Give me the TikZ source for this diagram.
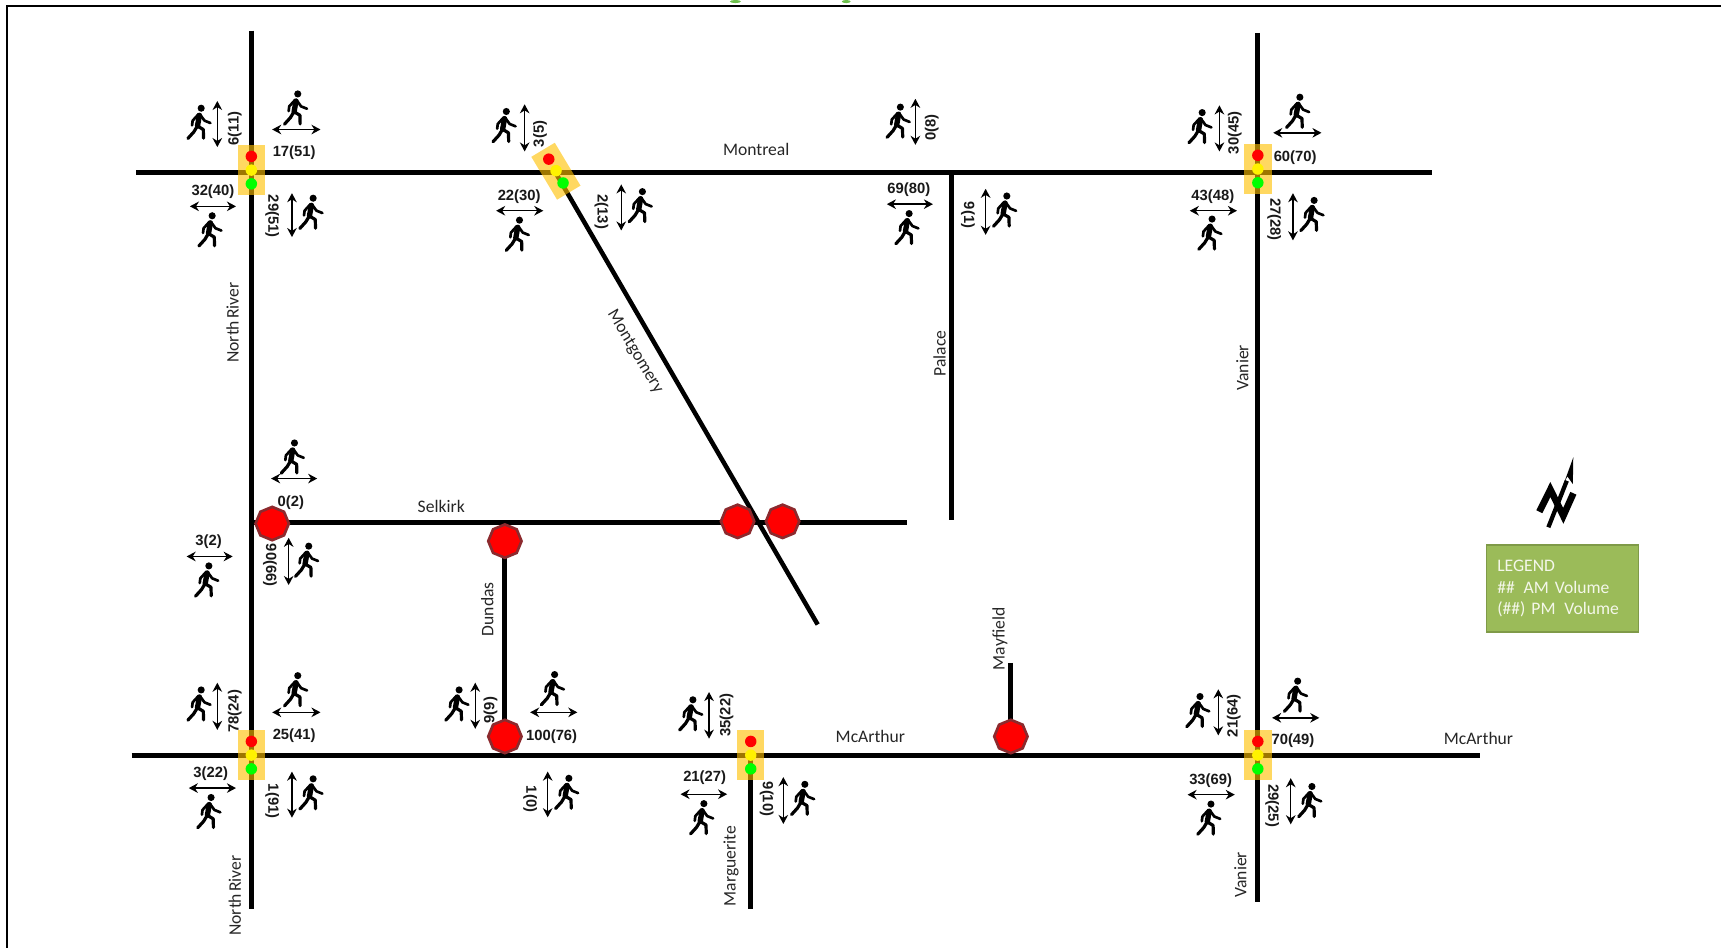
\documentclass[tikz,border=0pt]{standalone}
\usepackage{fontspec}
\setmainfont{Liberation Sans}
\newfontfamily\roadfont{Carlito}
\usetikzlibrary{arrows.meta,shapes.geometric}
\definecolor{legendfill}{HTML}{9BBB59}
\definecolor{legendedge}{HTML}{7F9A48}
\definecolor{stopedge}{HTML}{8C2A2E}
\definecolor{legendtext}{HTML}{F4F7EA}
\definecolor{titlegreen}{HTML}{6CBF4B}
\definecolor{lamp}{HTML}{FFC000}
\tikzset{
  x=.8232pt, y=-.8232pt,
  road/.style={line width=3.7pt, black},
  frameline/.style={line width=1.5pt, black},
  biarrow/.style={{Stealth[length=6.8pt,width=7.2pt]}-{Stealth[length=6.8pt,width=7.2pt]}, line width=1.05pt, black},
  vol/.style={font=\fontsize{11.1}{12}\selectfont\bfseries, inner sep=0pt, text=black!90},
  volup/.style={vol, rotate=90},
  voldown/.style={vol, rotate=-90},
  roadname/.style={font=\roadfont\fontsize{13.2}{15}\selectfont, inner sep=0pt, text=black!85},
  roadup/.style={roadname, rotate=90},
  signalbox/.style={rectangle, fill=lamp, fill opacity=.62, minimum width=20.5pt, minimum height=37.5pt, inner sep=0pt},
  light/.style={circle, minimum size=8.6pt, inner sep=0pt},
  stopsign/.style={regular polygon, regular polygon sides=8, shape border rotate=22.5, fill=red, draw=stopedge, line width=2pt, minimum size=25pt, inner sep=0pt},
  legendbox/.style={rectangle, fill=legendfill, draw=legendedge, line width=1.3pt, minimum width=114pt, minimum height=65pt, text width=97.6pt, align=left, inner sep=0pt, text=legendtext, font=\roadfont\fontsize{13.2}{16.4}\selectfont},
  ped/.pic={
    \begin{scope}[scale=1.08]
    \fill (1.2,-11.5) circle (3);
    \draw[line width=4pt, line cap=round] (-.3,-5.5) -- (-1.9,3.5);
    \draw[line width=2.4pt, line cap=round, line join=round] (-2,3.5) -- (3,6.5) -- (3.2,13.8);
    \draw[line width=2.4pt, line cap=round, line join=round] (-2,3.5) -- (-5,8.5) -- (-10,14);
    \draw[line width=2pt, line cap=round, line join=round] (0,-6.5) -- (4,-1) -- (9,1);
    \draw[line width=2pt, line cap=round, line join=round] (-1,-6.5) -- (-6,-1) -- (-6.5,3);
    \end{scope}
  }
}
\begin{document}
\begin{tikzpicture}
\useasboundingbox (0,0) rectangle (1568,863.7);
% page frame and remains of the cropped title
\coordinate (frameTL) at (6,5.5);
\coordinate (frameTR) at (1568,5.5);
\coordinate (frameBL) at (6,863.7);
\draw[frameline] (frameBL) -- (frameTL) -- (frameTR);
\fill[titlegreen] (670,1.4) ellipse (5 and 1.4);
\fill[titlegreen] (771,1.4) ellipse (4 and 1.4);
% road ends
\coordinate (nrN) at (229,28);    \coordinate (nrS) at (229,828);
\coordinate (moW) at (124,157);   \coordinate (moE) at (1305,157);
\coordinate (vaN) at (1146,30);   \coordinate (vaS) at (1146,822);
\coordinate (mcW) at (120,688);   \coordinate (mcE) at (1348,688);
\coordinate (paN) at (867,157);   \coordinate (paS) at (867,474);
\coordinate (seW) at (229,476);   \coordinate (seE) at (826,476);
\coordinate (duN) at (460,476);   \coordinate (duS) at (460,688);
\coordinate (mgN) at (506,157);   \coordinate (mgS) at (745,569);
\coordinate (maN) at (921,604);   \coordinate (maS) at (921,688);
\coordinate (mrN) at (684,688);   \coordinate (mrS) at (684,828);
\foreach \a/\b in {nrN/nrS,moW/moE,vaN/vaS,mcW/mcE,paN/paS,seW/seE,duN/duS,maN/maS,mrN/mrS}
  \draw[road] (\a) -- (\b);
\draw[road, line width=3.4pt] (mgN) -- (mgS);
% traffic signals
\foreach \x/\y [count=\i] in {229/155,1146/154,229/688,684/688,1146/688}{
  \node[signalbox] (sig\i) at (\x,\y) {};
  \node[light, fill=red]    (sig\i r) at (\x,\y-12.5) {};
  \node[light, fill=yellow] (sig\i y) at (\x,\y) {};
  \node[light, fill=green]  (sig\i g) at (\x,\y+12.5) {};
}
\node[signalbox, rotate=31] (sig6) at (506.5,156) {};
\node[light, fill=red]    (sig6r) at (500,145) {};
\node[light, fill=yellow] (sig6y) at (506.6,155.5) {};
\node[light, fill=green]  (sig6g) at (513,166.7) {};
% stop signs
\foreach \x/\y [count=\i] in {248/477,460/493,672/475,713/475,460/671,921/671}
  \node[stopsign] (stop\i) at (\x,\y) {};
% pedestrians
\foreach \x/\y [count=\i] in {
  182/111,270/98,192/209,284/193,
  460/114,472/213,584/187,
  819/110,827/207,916/191,
  1094/115,1183/101,1103/212,1196/195,
  267/416,189/528,280/510,
  182/641,270/628,191/739,284/722,
  417/641,504/627,517/721.5,
  630/650,640/744.6,732/727,
  1092/647,1181/633,1102/745,1194/729}
  \pic (p\i) at (\x,\y) {ped};
% horizontal crossing arrows: y, x-left, x-right
\foreach \y/\a/\b [count=\i] in {
  118/248/292,188/173/215,192/452/495,186/808/850,121/1160/1204,192/1084/1127,
  436/247/289,507/170/212,649/248/292,718/172/215,649/483/526,723.6/620/662.5,
  654/1159/1202,724/1082/1125}{
  \coordinate (hl\i) at (\a,\y);
  \coordinate (hr\i) at (\b,\y);
  \draw[biarrow] (hl\i) -- (hr\i);
}
% vertical crossing arrows: x, y-top, y-bottom
\foreach \x/\a/\b [count=\i] in {
  198/92/134,266/176/216,478/95/138,566/168/210,834/90/132,898/172/214,
  1111/96/138,1178/176/219,263/490/533,198/622/665,266/703/745,433/622/664,
  499/703/744.6,646/630.5/673,713.7/708/750.7,1110/628/670,1176/709/751}{
  \coordinate (vt\i) at (\x,\a);
  \coordinate (vb\i) at (\x,\b);
  \draw[biarrow] (vt\i) -- (vb\i);
}
% volume labels
\foreach \x/\y/\t [count=\i] in {
  268/139.2/17(51),194/174.2/32(40),473/179.2/22(30),828/173.2/69(80),1180/143.2/60(70),1105/179.2/43(48),
  265/458.2/0(2),190/493.2/3(2),268/670.2/25(41),192/705.2/3(22),502.6/671.2/100(76),642/708.2/21(27),
  1178/675.2/70(49),1103/711.2/33(69)}
  \node[vol] (volh\i) at (\x,\y) {\t};
\foreach \x/\y/\t [count=\i] in {
  214/117/6(11),492/122/3(5),849/116/0(8),1125/121/30(45),214/648/78(24),447/647/9(9),662/651.5/35(22),1124/652/21(64)}
  \node[volup] (volu\i) at (\x,\y) {\t};
\foreach \x/\y/\t [count=\i] in {
  248/197/29(51),548/193/2(13),882/196/9(1),1161/200/27(28),246/515/90(66),248/730/1(91),483/728/1(0),698.5/728/9(10),1159/734/29(25)}
  \node[voldown] (vold\i) at (\x,\y) {\t};
% road names
\node[roadname] (nMontreal) at (689,136) {Montreal};
\node[roadname] (nSelkirk) at (402,461) {Selkirk};
\node[roadname] (nMcArthurA) at (793,671) {McArthur};
\node[roadname] (nMcArthurB) at (1347,673) {McArthur};
\node[roadname, rotate=-59] (nMontgomery) at (578.5,320.4) {Montgomery};
\node[roadup] (nNorthRiverA) at (212,294) {North\hspace{1.5pt}River};
\node[roadup] (nNorthRiverB) at (214,816) {North\hspace{1.5pt}River};
\node[roadup] (nPalace) at (856,322) {Palace};
\node[roadup] (nVanierA) at (1132,335) {Vanier};
\node[roadup] (nVanierB) at (1130,797) {Vanier};
\node[roadup] (nDundas) at (444,555) {Dundas};
\node[roadup] (nMayfield) at (911,582) {Mayfield};
\node[roadup] (nMarguerite) at (666,789) {Marguerite};
% north arrow
\draw[line width=5pt, line join=miter] (1402.5,466.2) -- (1412.5,446) -- (1424.3,470) -- (1433.5,449.4);
\draw[line width=3.2pt] (1410.7,480.4) -- (1427.5,438);
\fill (1433.4,416.7) -- (1433,441) -- (1428,434) -- (1424.6,441) -- cycle;
% legend
\node[legendbox] (legend) at (1423.5,536.3) {LEGEND\\\#\#\ \,AM Volume\\(\#\#) PM\ \,Volume};
\end{tikzpicture}
\end{document}
